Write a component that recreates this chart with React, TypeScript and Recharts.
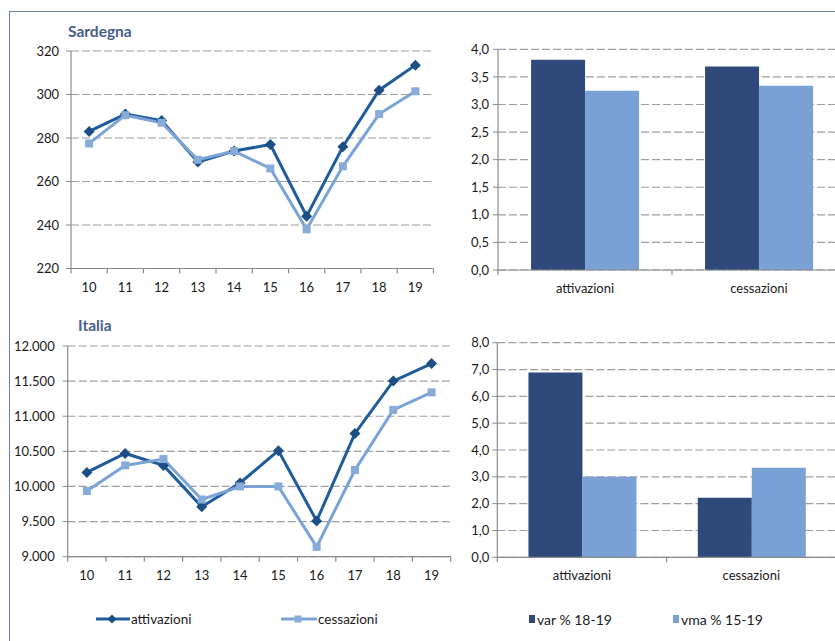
import React from 'react';
import { LineChart, Line, BarChart, Bar, XAxis, YAxis, CartesianGrid } from 'recharts';

const years = ['10', '11', '12', '13', '14', '15', '16', '17', '18', '19'];
const sardegnaAttivazioni = [283, 291, 288, 269, 274, 277, 244, 276, 302, 313.5];
const sardegnaCessazioni = [277.5, 290.5, 287, 270, 274, 266, 238, 267, 291, 301.5];
const italiaAttivazioni = [10200, 10470, 10300, 9710, 10050, 10510, 9510, 10755, 11500, 11750];
const italiaCessazioni = [9935, 10300, 10390, 9815, 10000, 10000, 9140, 10235, 11090, 11340];

const barCategories = ['attivazioni', 'cessazioni'];
const sardegnaVar = [3.81, 3.69];
const sardegnaVma = [3.25, 3.34];
const italiaVar = [6.89, 2.22];
const italiaVma = [3.0, 3.34];

const sardegnaTicks = [220, 240, 260, 280, 300, 320];
const italiaTicks = [9000, 9500, 10000, 10500, 11000, 11500, 12000];
const sardegnaBarTicks = [0, 0.5, 1, 1.5, 2, 2.5, 3, 3.5, 4];
const italiaBarTicks = [0, 1, 2, 3, 4, 5, 6, 7, 8];

const sardegnaLineData = years.map((y, i) => ({ year: y, attivazioni: sardegnaAttivazioni[i], cessazioni: sardegnaCessazioni[i] }));
const italiaLineData = years.map((y, i) => ({ year: y, attivazioni: italiaAttivazioni[i], cessazioni: italiaCessazioni[i] }));
const sardegnaBarData = barCategories.map((c, i) => ({ cat: c, var: sardegnaVar[i], vma: sardegnaVma[i] }));
const italiaBarData = barCategories.map((c, i) => ({ cat: c, var: italiaVar[i], vma: italiaVma[i] }));

const FONT = 'Lato, "Open Sans", sans-serif';
const AXIS = '#8a8a8a';
const GRID = '#9e9e9e';
const TEXT = '#1a1a1a';
const C_ATT = '#1f5c9c';
const C_ATT_M = '#1d4e85';
const C_CES = '#7ba3d6';
const C_CES_M = '#88acda';
const C_DARK = '#2f4a7a';
const C_LIGHT = '#79a1d6';
const TITLE = '#4a5d8a';

const fmtThousands = (v: number) => {
  const s = String(Math.round(v));
  return s.length > 3 ? s.slice(0, -3) + '.' + s.slice(-3) : s;
};
const fmtComma = (v: number) => v.toFixed(1).replace('.', ',');

const BandTick = (props: any) => {
  const { x, y, payload, index, visibleTicksCount } = props;
  const half = payload && typeof payload.offset === 'number' ? payload.offset : 0;
  const last = index === (visibleTicksCount ?? 0) - 1;
  return (
    <g>
      <line x1={x - half} x2={x - half} y1={y} y2={y + 5} stroke={AXIS} strokeWidth={1.2} />
      {last ? <line x1={x + half} x2={x + half} y1={y} y2={y + 5} stroke={AXIS} strokeWidth={1.2} /> : null}
      <text x={x} y={y + 18} textAnchor="middle" dominantBaseline="central" fontSize={13} fill={TEXT} fontFamily={FONT}>
        {payload.value}
      </text>
    </g>
  );
};

const Diamond = (props: any) => {
  const { cx, cy, fill, r = 5 } = props;
  if (cx == null || cy == null) return null;
  return <path d={`M${cx},${cy - r} L${cx + r},${cy} L${cx},${cy + r} L${cx - r},${cy} Z`} fill={fill} />;
};
const Square = (props: any) => {
  const { cx, cy, fill, s = 8 } = props;
  if (cx == null || cy == null) return null;
  return <rect x={cx - s / 2} y={cy - s / 2} width={s} height={s} fill={fill} />;
};

const yTick = { fontSize: 13, fill: TEXT, fontFamily: FONT };

function LinePanel(p: { data: any[]; ticks: number[]; fmt: (v: number) => string; width: number; height: number; margin: any; yWidth: number; xHeight: number; tickMargin: number }) {
  const domain = [p.ticks[0], p.ticks[p.ticks.length - 1]];
  return (
    <LineChart width={p.width} height={p.height} data={p.data} margin={p.margin}>
      <CartesianGrid vertical={false} stroke={GRID} strokeDasharray="8 3" strokeWidth={1.2} />
      <XAxis dataKey="year" scale="band" axisLine={{ stroke: AXIS, strokeWidth: 1.2 }} tickLine={false} tickSize={0} tickMargin={0} height={p.xHeight} tick={<BandTick />} interval={0} />
      <YAxis domain={domain} ticks={p.ticks} tickFormatter={p.fmt} width={p.yWidth} axisLine={{ stroke: AXIS, strokeWidth: 1.2 }} tickLine={{ stroke: AXIS }} tickSize={5} tickMargin={p.tickMargin} tick={yTick} interval={0} />
      <Line type="linear" dataKey="attivazioni" stroke={C_ATT} strokeWidth={3} isAnimationActive={false}
        dot={(d: any) => <Diamond key={`a${d.index}`} cx={d.cx} cy={d.cy} fill={C_ATT_M} r={5.5} />} />
      <Line type="linear" dataKey="cessazioni" stroke={C_CES} strokeWidth={3} isAnimationActive={false}
        dot={(d: any) => <Square key={`c${d.index}`} cx={d.cx} cy={d.cy} fill={C_CES_M} s={8} />} />
    </LineChart>
  );
}

function BarPanel(p: { data: any[]; ticks: number[]; width: number; height: number; margin: any; yWidth: number; xHeight: number; gap: string; tickMargin: number }) {
  const domain = [p.ticks[0], p.ticks[p.ticks.length - 1]];
  return (
    <BarChart width={p.width} height={p.height} data={p.data} margin={p.margin} barCategoryGap={p.gap} barGap={0}>
      <CartesianGrid vertical={false} stroke={GRID} strokeDasharray="8 3" strokeWidth={1.2} />
      <XAxis dataKey="cat" axisLine={{ stroke: AXIS, strokeWidth: 1.2 }} tickLine={false} tickSize={0} tickMargin={0} height={p.xHeight} tick={<BandTick />} interval={0} />
      <YAxis domain={domain} ticks={p.ticks} tickFormatter={fmtComma} width={p.yWidth} axisLine={{ stroke: AXIS, strokeWidth: 1.2 }} tickLine={{ stroke: AXIS }} tickSize={5} tickMargin={p.tickMargin} tick={yTick} interval={0} />
      <Bar dataKey="var" fill={C_DARK} isAnimationActive={false} />
      <Bar dataKey="vma" fill={C_LIGHT} isAnimationActive={false} />
    </BarChart>
  );
}

const abs = (left: number, top: number): React.CSSProperties => ({ position: 'absolute', left, top });

export default function App() {
  return (
    <div style={{ position: 'absolute', left: 0, top: 0, width: 835, height: 641, overflow: 'hidden', background: '#fff', fontFamily: FONT, color: TEXT }}>
      <div style={{ position: 'absolute', left: 9, top: 11, width: 900, height: 700, borderLeft: '1.5px solid #7080a0', borderTop: '1.5px solid #7080a0' }} />

      <div style={abs(0, 20)}>
        <LinePanel data={sardegnaLineData} ticks={sardegnaTicks} fmt={(v) => String(v)} width={450} height={280}
          margin={{ top: 31, right: 16.5, left: 0, bottom: 0 }} yWidth={71} xHeight={31.5} tickMargin={7} />
      </div>
      <div style={abs(440, 20)}>
        <BarPanel data={sardegnaBarData} ticks={sardegnaBarTicks} width={406} height={280}
          margin={{ top: 29.3, right: 0, left: 0, bottom: 0 }} yWidth={58} xHeight={30} gap="19%" tickMargin={4} />
      </div>
      <div style={abs(0, 300)}>
        <LinePanel data={italiaLineData} ticks={italiaTicks} fmt={fmtThousands} width={460} height={290}
          margin={{ top: 46, right: 9.3, left: 0, bottom: 0 }} yWidth={67.7} xHeight={33.3} tickMargin={8} />
      </div>
      <div style={abs(440, 300)}>
        <BarPanel data={italiaBarData} ticks={italiaBarTicks} width={396} height={290}
          margin={{ top: 42.7, right: 0, left: 0, bottom: 0 }} yWidth={57.3} xHeight={32.7} gap="18.4%" tickMargin={3} />
      </div>

      <div style={{ ...abs(68, 21), fontSize: 15.5, fontWeight: 700, color: TITLE, lineHeight: '20px' }}>Sardegna</div>
      <div style={{ ...abs(78, 315), fontSize: 15.5, fontWeight: 700, color: TITLE, lineHeight: '20px' }}>Italia</div>

      <div style={{ ...abs(96, 610), display: 'flex', alignItems: 'center', height: 18, fontSize: 13.5 }}>
        <svg width={35} height={18}>
          <line x1={0} x2={34} y1={9} y2={9} stroke={C_ATT} strokeWidth={3} />
          <Diamond cx={16} cy={9} r={4.5} fill={C_ATT_M} />
        </svg>
        <span>attivazioni</span>
      </div>
      <div style={{ ...abs(281, 610), display: 'flex', alignItems: 'center', height: 18, fontSize: 13.5 }}>
        <svg width={37} height={18}>
          <line x1={0} x2={36} y1={9} y2={9} stroke={C_CES} strokeWidth={3} />
          <Square cx={17} cy={9} s={7} fill={C_CES_M} />
        </svg>
        <span>cessazioni</span>
      </div>
      <div style={{ ...abs(529, 610), display: 'flex', alignItems: 'center', height: 18, fontSize: 14 }}>
        <span style={{ display: 'inline-block', width: 6, height: 8, background: C_DARK, marginRight: 2 }} />
        <span>var % 18-19</span>
      </div>
      <div style={{ ...abs(673, 610), display: 'flex', alignItems: 'center', height: 18, fontSize: 14 }}>
        <span style={{ display: 'inline-block', width: 6, height: 8, background: C_LIGHT, marginRight: 2 }} />
        <span>vma % 15-19</span>
      </div>
    </div>
  );
}
